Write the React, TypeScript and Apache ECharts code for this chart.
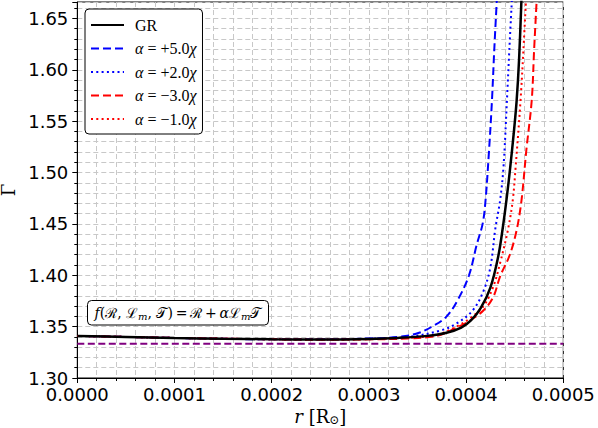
import React, { useEffect, useRef } from "react";
import * as echarts from "echarts";

// r values are in units of 1e-4 R_sun
const R_GR = [0, 0.5, 1.0, 1.5, 2.0, 2.5, 3.0, 3.3, 3.6, 3.8, 3.95, 4.05, 4.15, 4.25, 4.33, 4.38, 4.42, 4.455, 4.49, 4.52, 4.545, 4.57];
const G_GR = [1.341, 1.34, 1.339, 1.3382, 1.3377, 1.3375, 1.338, 1.339, 1.341, 1.344, 1.349, 1.356, 1.368, 1.388, 1.418, 1.448, 1.477, 1.506, 1.538, 1.57, 1.61, 1.67];

const R_P5 = [0, 1.0, 2.0, 2.5, 3.0, 3.3, 3.5, 3.65, 3.8, 3.92, 4.03, 4.11, 4.17, 4.2, 4.235, 4.266, 4.29, 4.32];
const G_P5 = [1.341, 1.339, 1.3377, 1.3377, 1.3385, 1.34, 1.3435, 1.35, 1.36, 1.377, 1.4, 1.43, 1.45, 1.473, 1.52, 1.57, 1.62, 1.675];

const R_P2 = [0, 1.0, 2.0, 2.5, 3.0, 3.4, 3.73, 3.9, 4.07, 4.18, 4.25, 4.3, 4.35, 4.385, 4.42, 4.445, 4.475];
const G_P2 = [1.341, 1.339, 1.3377, 1.3375, 1.3382, 1.34, 1.346, 1.353, 1.366, 1.385, 1.408, 1.445, 1.473, 1.506, 1.57, 1.62, 1.675];

const R_M3 = [0, 1.0, 2.0, 2.5, 3.0, 3.4, 3.7, 3.9, 4.04, 4.18, 4.28, 4.35, 4.45, 4.52, 4.57, 4.62, 4.675, 4.7, 4.73];
const G_M3 = [1.341, 1.339, 1.3377, 1.3373, 1.3376, 1.3385, 1.341, 1.349, 1.356, 1.366, 1.379, 1.399, 1.42, 1.444, 1.473, 1.522, 1.57, 1.62, 1.675];

const R_M1 = [0, 1.0, 2.0, 2.5, 3.0, 3.4, 3.7, 3.9, 4.04, 4.18, 4.28, 4.35, 4.43, 4.48, 4.51, 4.56, 4.59, 4.62];
const G_M1 = [1.341, 1.339, 1.3377, 1.3374, 1.3378, 1.339, 1.342, 1.35, 1.358, 1.37, 1.389, 1.412, 1.444, 1.473, 1.506, 1.57, 1.62, 1.675];

const REF_R = [0, 5];
const REF_G = [4 / 3, 4 / 3];

const X_MIN = 0;
const X_MAX = 0.0005;
const X_INTERVAL = 0.0001;
const Y_MIN = 1.3;
const Y_MAX = 1.666;
const Y_INTERVAL = 0.05;

const NAMES = ["GR", "α = +5.0χ", "α = +2.0χ", "α = −3.0χ", "α = −1.0χ"];

const pts = (r: number[], g: number[]) => r.map((v, i) => [v * 1e-4, g[i]]);

export default function App() {
  const ref = useRef<HTMLDivElement>(null);
  useEffect(() => {
    document.body.style.margin = "0";
    const chart = echarts.init(ref.current!, undefined, { renderer: "svg" });
    const tickFont = { fontFamily: "DejaVu Sans", fontSize: 18, color: "#000" };
    const grid = { color: "#c8c8c8", type: [5, 3] as any, width: 1 };
    const line = (name: string, r: number[], g: number[], color: string, width: number, type: any, z: number) => ({
      type: "line",
      name,
      data: pts(r, g),
      symbol: "none",
      smooth: 0.35,
      clip: true,
      z,
      lineStyle: { color, width, type },
      itemStyle: { color },
    });
    chart.setOption({
      animation: false,
      grid: {
        left: 77.3,
        right: 34.7,
        top: 2,
        bottom: 50,
        show: true,
        borderColor: "#000",
        borderWidth: 1,
        containLabel: false,
        outerBoundsMode: "none",
      },
      xAxis: {
        type: "value",
        min: X_MIN,
        max: X_MAX,
        interval: X_INTERVAL,
        name: "{i|r} [R{s|⊙}]",
        nameLocation: "middle",
        nameGap: 21,
        nameTextStyle: {
          fontFamily: "DejaVu Serif",
          fontSize: 18,
          color: "#000",
          rich: {
            i: { fontFamily: "DejaVu Serif", fontStyle: "italic", fontSize: 18, color: "#000" },
            s: { fontFamily: "DejaVu Serif", fontSize: 12, color: "#000", padding: [6, 0, 0, 0] },
          },
        },
        axisLine: { show: true, lineStyle: { color: "#000", width: 1 } },
        axisTick: { show: true, inside: false, length: 5, lineStyle: { color: "#000" } },
        minorTick: { show: true, splitNumber: 5, length: 3, lineStyle: { color: "#000" } },
        axisLabel: { ...tickFont, margin: 7, formatter: (v: number) => v.toFixed(4) },
        splitLine: { show: true, lineStyle: grid },
        minorSplitLine: { show: true, lineStyle: grid },
      },
      yAxis: {
        type: "value",
        min: Y_MIN,
        max: Y_MAX,
        interval: Y_INTERVAL,
        name: "Γ",
        nameLocation: "middle",
        nameGap: 57,
        nameRotate: 90,
        nameTextStyle: { fontFamily: "DejaVu Serif", fontSize: 18, color: "#000" },
        axisLine: { show: true, lineStyle: { color: "#000", width: 1 } },
        axisTick: { show: true, inside: false, length: 5, lineStyle: { color: "#000" } },
        minorTick: { show: true, splitNumber: 5, length: 3, lineStyle: { color: "#000" } },
        axisLabel: { ...tickFont, margin: 9, showMaxLabel: false, formatter: (v: number) => v.toFixed(2) },
        splitLine: { show: true, lineStyle: grid },
        minorSplitLine: { show: true, lineStyle: grid },
      },
      legend: {
        data: NAMES,
        orient: "vertical",
        left: 85,
        top: 9,
        padding: [8, 6, 7, 5],
        itemWidth: 33,
        itemHeight: 14,
        itemGap: 7.5,
        backgroundColor: "#fff",
        borderColor: "#000",
        borderWidth: 1,
        borderRadius: 4,
        itemStyle: { opacity: 0 },
        textStyle: {
          fontFamily: "Liberation Serif",
          fontSize: 16,
          color: "#000",
          lineHeight: 14,
          padding: [0, 0, 0, 6],
          rich: { i: { fontFamily: "Liberation Serif", fontStyle: "italic", fontSize: 16, color: "#000" } },
        },
        formatter: (n: string) => {
          const m = n.match(/^α(.*)χ$/);
          return m ? `{i|α}${m[1]}{i|χ}` : n;
        },
      },
      graphic: [
        {
          type: "rect",
          shape: { x: 87.5, y: 300.5, width: 181, height: 24.5, r: 4 },
          style: { fill: "#fff", stroke: "#000", lineWidth: 1 },
          z: 100,
        },
        {
          type: "text",
          x: 178,
          y: 312.5,
          z: 101,
          style: {
            text: "{i|f}({c|ℛ}, {c|ℒ}{s|m}, {c|𝒯})\u2009=\u2009{c|ℛ}\u2009+\u2009{i|α}{c|ℒ}{s|m}{c|𝒯}",
            align: "center",
            verticalAlign: "middle",
            fontFamily: "DejaVu Serif",
            fontSize: 14,
            fill: "#000",
            rich: {
              i: { fontFamily: "DejaVu Serif", fontStyle: "italic", fontSize: 14, fill: "#000" },
              c: { fontFamily: "DejaVu Serif", fontSize: 14, fill: "#000" },
              s: { fontFamily: "DejaVu Serif", fontStyle: "italic", fontSize: 10, fill: "#000", padding: [7, 0, 0, 0] },
            },
          },
        },
      ],
      series: [
        {
          type: "line",
          name: "ref",
          data: pts(REF_R, REF_G),
          symbol: "none",
          z: 1,
          lineStyle: { color: "#800080", width: 2, type: [7, 3.5] },
          itemStyle: { color: "#800080" },
        },
        line(NAMES[1], R_P5, G_P5, "#0000ff", 2, [8, 4], 2),
        line(NAMES[2], R_P2, G_P2, "#0000ff", 2, [2, 3.3], 2),
        line(NAMES[3], R_M3, G_M3, "#ff0000", 2, [8, 4], 2),
        line(NAMES[4], R_M1, G_M1, "#ff0000", 2, [2, 3.3], 2),
        line(NAMES[0], R_GR, G_GR, "#000000", 2.5, "solid", 3),
      ],
    });
    return () => chart.dispose();
  }, []);
  return <div ref={ref} style={{ width: 598, height: 428 }} />;
}
